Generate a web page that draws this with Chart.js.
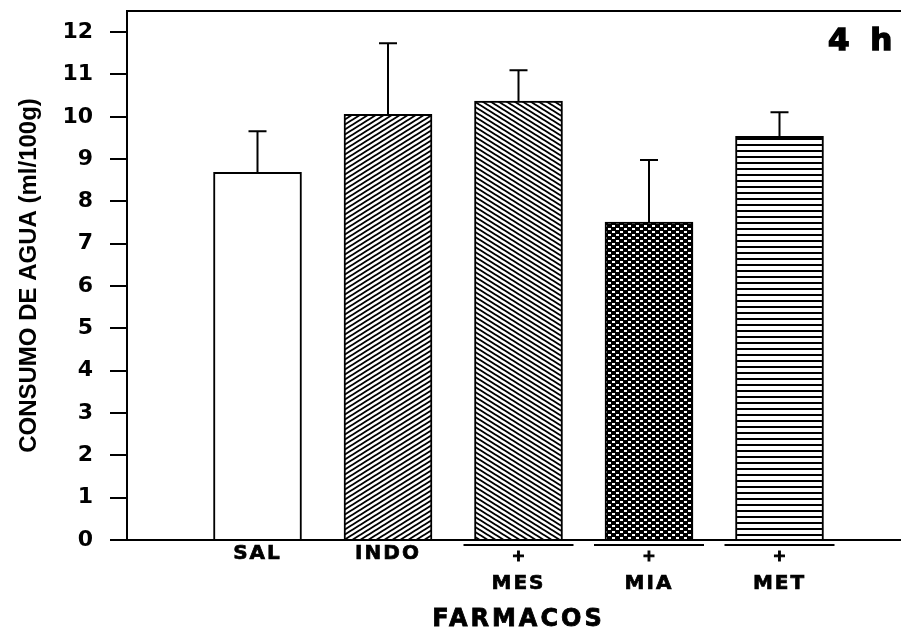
<!DOCTYPE html>
<html>
<head>
<meta charset="utf-8">
<script src="https://cdn.jsdelivr.net/npm/chart.js@4.4.1/dist/chart.umd.min.js"></script>
<style>
  html,body{margin:0;padding:0;background:#fff;overflow:hidden;}
  canvas{display:block;}
</style>
</head>
<body>
<canvas id="c" width="910" height="633"></canvas>
<script>
// datos (4 h)
const categories=['SAL','INDO','MES','MIA','MET'];
const combined=[false,false,true,true,true]; // INDO + farmaco
const means=[8.69,10.06,10.37,7.51,9.54];
const errs=[0.97,1.68,0.73,1.47,0.57];
const fills=['white','fwd','back','dots','horiz'];
const yTicks=[0,1,2,3,4,5,6,7,8,9,10,11,12];

const cv=document.getElementById('c'); const ctx=cv.getContext('2d');

function makePattern(kind){
  if(kind==='white') return '#fff';
  const c=document.createElement('canvas'); const g=c.getContext('2d');
  if(kind==='fwd'||kind==='back'){
    const w=8,h=5; c.width=w; c.height=h;
    g.fillStyle='#fff'; g.fillRect(0,0,w,h);
    g.strokeStyle='#000'; g.lineWidth=1.9;
    if(kind==='back'){g.translate(w,0); g.scale(-1,1);}
    g.beginPath();
    for(let i=-1;i<=1;i++) for(let j=-1;j<=1;j++){
      g.moveTo(i*w,h+j*h); g.lineTo(w+i*w,j*h);
    }
    g.stroke();
  } else if(kind==='dots'){
    c.width=8; c.height=6;
    g.fillStyle='#000'; g.fillRect(0,0,8,6);
    g.fillStyle='#fff'; g.fillRect(0,0,3,2); g.fillRect(4,3,3,2);
  } else if(kind==='horiz'){
    c.width=6; c.height=6;
    g.fillStyle='#fff'; g.fillRect(0,0,6,6);
    g.fillStyle='#000'; g.fillRect(0,0,6,2);
  }
  return ctx.createPattern(c,'repeat');
}

// un hueco vacio a cada lado, como en la figura
const labels=['',...categories,''];
const data=[null,...means,null];
const bgs=['#fff',...fills.map(makePattern),'#fff'];

function boldText(ctx,t,x,y,w){ctx.fillText(t,x,y); ctx.lineWidth=w; ctx.strokeText(t,x,y);}

const extras={
  id:'extras',
  afterDatasetsDraw(chart){
    const {ctx,scales:{x,y},chartArea:a}=chart;
    const meta=chart.getDatasetMeta(0);
    ctx.save();
    ctx.strokeStyle='#000'; ctx.lineWidth=2;
    // barras de error (solo hacia arriba)
    categories.forEach((c,i)=>{
      const bar=meta.data[i+1]; if(!bar) return;
      const yt=y.getPixelForValue(means[i]+errs[i]);
      ctx.beginPath();
      ctx.moveTo(bar.x,bar.y); ctx.lineTo(bar.x,yt);
      ctx.moveTo(bar.x-9,yt); ctx.lineTo(bar.x+9,yt);
      ctx.stroke();
    });
    // marco superior
    ctx.beginPath(); ctx.moveTo(a.left,a.top); ctx.lineTo(a.right,a.top); ctx.stroke();
    // etiquetas del eje x
    ctx.fillStyle='#000'; ctx.textAlign='center'; ctx.textBaseline='middle';
    categories.forEach((c,i)=>{
      const px=x.getPixelForValue(i+1);
      if(combined[i]){
        ctx.lineWidth=2;
        ctx.beginPath(); ctx.moveTo(px-55,a.bottom+5); ctx.lineTo(px+55,a.bottom+5); ctx.stroke();
        ctx.font='bold 16px "DejaVu Sans"'; ctx.letterSpacing='0px';
        boldText(ctx,'+',px,a.bottom+17,1);
        ctx.font='bold 20px "DejaVu Sans"'; ctx.letterSpacing='2px';
        boldText(ctx,c,px,a.bottom+44,0.7);
      } else {
        ctx.font='bold 20px "DejaVu Sans"'; ctx.letterSpacing='2px';
        boldText(ctx,c,px,a.bottom+14,0.7);
      }
    });
    ctx.font='bold 24px "DejaVu Sans"'; ctx.letterSpacing='3px';
    boldText(ctx,'FARMACOS',(a.left+a.right)/2,620,0.8);
    ctx.font='bold 31px "DejaVu Sans"'; ctx.letterSpacing='5px';
    ctx.textAlign='left';
    boldText(ctx,'4 h',828,42,1.5);
    ctx.restore();
  }
};

new Chart(cv,{
  type:'bar',
  data:{labels,datasets:[{data,backgroundColor:bgs,borderColor:'#000',borderWidth:2,barThickness:88}]},
  options:{
    responsive:false, animation:false,
    layout:{padding:{top:11,left:0,right:0,bottom:0}},
    plugins:{legend:{display:false},tooltip:{enabled:false}},
    scales:{
      x:{offset:false,grid:{display:false},border:{color:'#000',width:2},ticks:{display:false},
         afterFit(s){s.height=93; s.paddingLeft=0; s.paddingRight=0;}},
      y:{min:0,max:12.5,
         afterBuildTicks(s){s.ticks=yTicks.map(v=>({value:v}));},
         afterFit(s){s.width=127; s.paddingTop=0; s.paddingBottom=0;},
         grid:{drawOnChartArea:false,drawTicks:true,tickLength:17,color:'#000',lineWidth:2},
         border:{color:'#000',width:2},
         ticks:{padding:17,color:'#000',font:{family:'"DejaVu Sans"',weight:'bold',size:22}},
         title:{display:true,text:'CONSUMO DE AGUA (ml/100g)',color:'#000',
                font:{family:'"Liberation Sans", Arial, sans-serif',weight:'bold',size:24},padding:{top:15,bottom:0}}}
    }
  },
  plugins:[extras]
});
</script>
</body>
</html>
